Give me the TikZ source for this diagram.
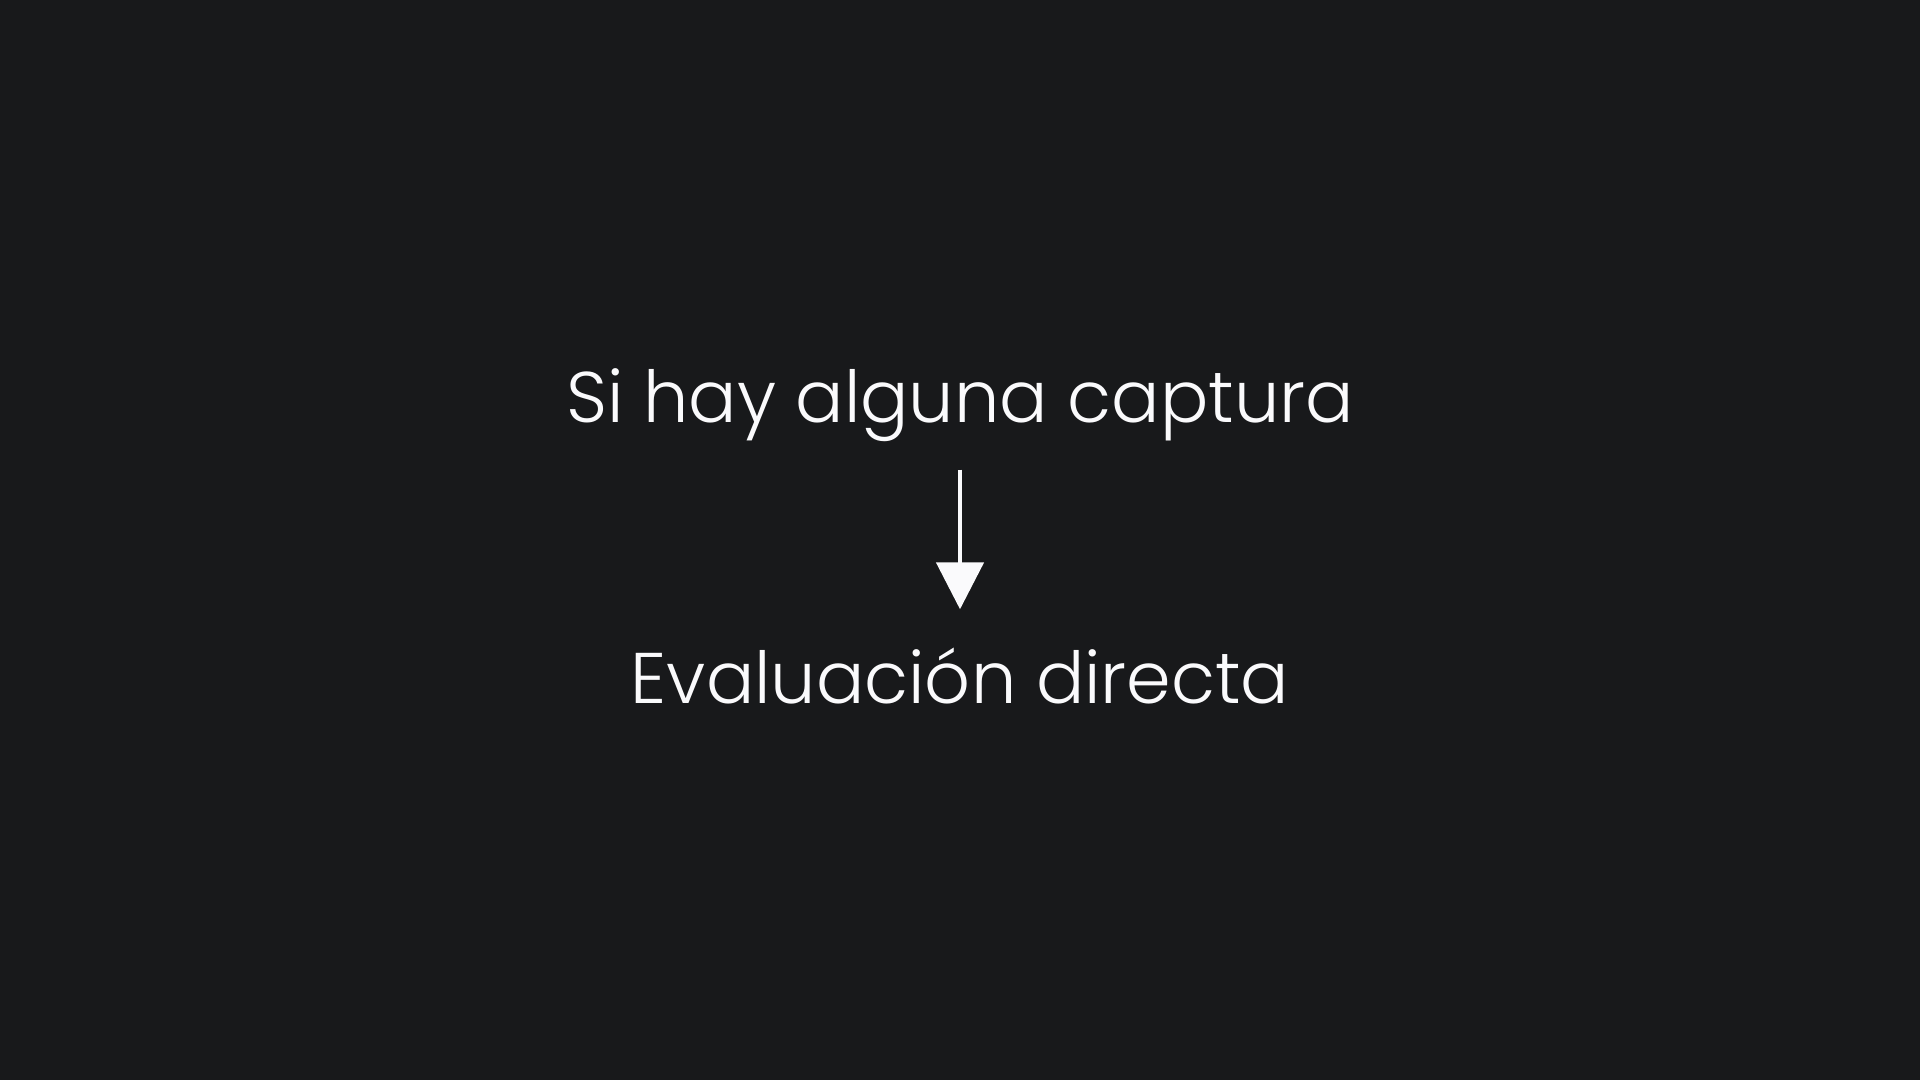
\documentclass[tikz,border=0pt]{standalone}
\usepackage{fontspec}
\setmainfont{Poppins}[UprightFont=* Light]
\usetikzlibrary{arrows.meta,positioning}
\definecolor{bgdark}{HTML}{18191B}
\definecolor{chalk}{HTML}{FAFAFC}

\begin{document}
\begin{tikzpicture}[
    >={Triangle[length=4.7mm,width=4.7mm]},
    txt/.style={text=chalk,inner sep=0,font=\fontsize{20.4}{24}\selectfont,
      text height=5mm,text depth=1.6mm},
    flow/.style={->,draw=chalk,line width=1.4pt,
      shorten <=3.1mm,shorten >=4.3mm}
    ]

    % background
    \fill [bgdark] (0,0) rectangle (19.2,-10.8);

    \node [txt,anchor=base] (capture) at (9.6,-4.22) {Si hay alguna captura};
    \node [txt,anchor=base] (evaluation) at (9.6,-7.03) {Evaluación directa};

    % step
    \draw [flow] (capture) to (evaluation);
  \end{tikzpicture}
\end{document}
